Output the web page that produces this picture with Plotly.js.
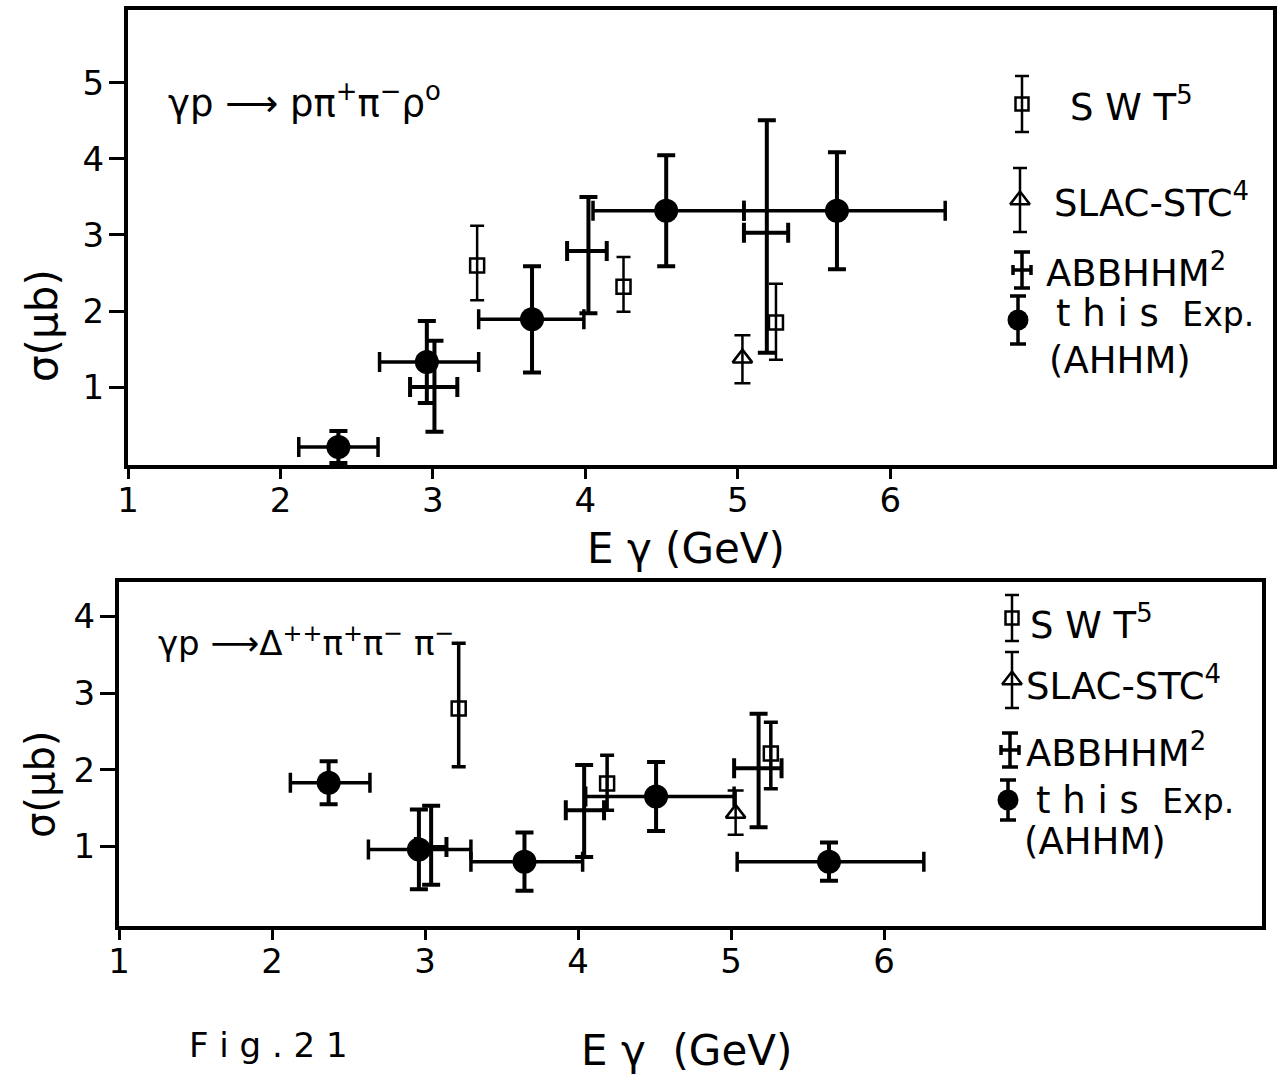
<!DOCTYPE html>
<html>
<head>
<meta charset="utf-8">
<script src="https://cdn.plot.ly/plotly-3.0.1.min.js"></script>
<style>
  html, body { margin: 0; padding: 0; background: #fff; }
  #chart { width: 1288px; height: 1090px; }
</style>
</head>
<body>
<div id="chart"></div>
<script>
// ---- γp → p π+ π− ρ0 (upper panel) ----
const rhoExpE      = [2.38, 2.96, 3.65, 4.53, 5.65];
const rhoExpELow   = [2.12, 2.65, 3.30, 4.05, 5.04];
const rhoExpEHigh  = [2.64, 3.30, 3.99, 5.04, 6.36];
const rhoExpSigma  = [0.21, 1.33, 1.89, 3.32, 3.32];
const rhoExpErr    = [0.21, 0.54, 0.70, 0.73, 0.77];

const rhoSwtE       = [3.29, 4.25, 5.25];
const rhoSwtSigma   = [2.60, 2.32, 1.85];
const rhoSwtErrUp   = [0.52, 0.39, 0.51];
const rhoSwtErrDown = [0.46, 0.33, 0.49];

const rhoSlacE       = [5.03];
const rhoSlacSigma   = [1.38];
const rhoSlacErrUp   = [0.30];
const rhoSlacErrDown = [0.33];

const rhoAbbE       = [3.01, 4.02, 5.19];
const rhoAbbELow    = [2.85, 3.88, 5.04];
const rhoAbbEHigh   = [3.16, 4.14, 5.33];
const rhoAbbSigma   = [1.00, 2.79, 3.03];
const rhoAbbErrUp   = [0.61, 0.71, 1.48];
const rhoAbbErrDown = [0.59, 0.82, 1.58];

// ---- γp → Δ++ π+ π− π− (lower panel) ----
const delExpE      = [2.37, 2.96, 3.65, 4.51, 5.64];
const delExpELow   = [2.12, 2.63, 3.30, 4.05, 5.04];
const delExpEHigh  = [2.64, 3.30, 4.03, 5.02, 6.26];
const delExpSigma  = [1.83, 0.96, 0.80, 1.65, 0.80];
const delExpErr    = [0.28, 0.52, 0.38, 0.45, 0.25];

const delSwtE       = [3.22, 4.19, 5.26];
const delSwtSigma   = [2.80, 1.82, 2.21];
const delSwtErrUp   = [0.85, 0.37, 0.41];
const delSwtErrDown = [0.76, 0.35, 0.46];

const delSlacE       = [5.03];
const delSlacSigma   = [1.43];
const delSlacErrUp   = [0.30];
const delSlacErrDown = [0.28];

const delAbbE       = [3.04, 4.04, 5.18];
const delAbbELow    = [2.94, 3.92, 5.02];
const delAbbEHigh   = [3.14, 4.17, 5.33];
const delAbbSigma   = [0.99, 1.47, 2.02];
const delAbbErrUp   = [0.54, 0.59, 0.71];
const delAbbErrDown = [0.49, 0.61, 0.77];

// tick values and text
const xTicks      = [1, 2, 3, 4, 5, 6];
const yTicksUpper = [1, 2, 3, 4, 5];
const yTicksLower = [1, 2, 3, 4];
const legendNames = ['SWT', 'SLAC-STC', 'ABBHHM', 'this Exp.'];
const legendRefs  = ['5', '4', '2', ''];

// ---------------------------------------------------------------
const W = 1288, H = 1090;
const fx = p => p / W;          // pixel → paper x
const fy = p => 1 - p / H;      // pixel → paper y
const INK = '#000';
const FONT = 'DejaVu Sans, Liberation Sans, sans-serif';

const diff = (a, b) => a.map((v, i) => v - b[i]);

function expTrace(E, lo, hi, s, err, xa, ya) {
  return {
    type: 'scatter', mode: 'markers', xaxis: xa, yaxis: ya,
    x: E, y: s, showlegend: false, hoverinfo: 'skip',
    marker: { symbol: 'circle', size: 24, color: INK },
    error_x: { type: 'data', symmetric: false, array: diff(hi, E), arrayminus: diff(E, lo),
               color: INK, thickness: 3.5, width: 10 },
    error_y: { type: 'data', array: err, color: INK, thickness: 4, width: 9 }
  };
}
function swtTrace(E, s, up, dn, xa, ya, lw) {
  return {
    type: 'scatter', mode: 'markers', xaxis: xa, yaxis: ya,
    x: E, y: s, showlegend: false, hoverinfo: 'skip',
    marker: { symbol: 'square-open', size: 14, color: INK, line: { width: 2.5, color: INK } },
    error_y: { type: 'data', symmetric: false, array: up, arrayminus: dn,
               color: INK, thickness: lw, width: 7 }
  };
}
function slacTrace(E, s, up, dn, xa, ya) {
  return {
    type: 'scatter', mode: 'markers', xaxis: xa, yaxis: ya,
    x: E, y: s, showlegend: false, hoverinfo: 'skip',
    marker: { symbol: 'triangle-up-open', size: 17, color: INK, line: { width: 2.5, color: INK } },
    error_y: { type: 'data', symmetric: false, array: up, arrayminus: dn,
               color: INK, thickness: 2.5, width: 8 }
  };
}
function abbTrace(E, lo, hi, s, up, dn, xa, ya) {
  return {
    type: 'scatter', mode: 'markers', xaxis: xa, yaxis: ya,
    x: E, y: s, showlegend: false, hoverinfo: 'skip',
    marker: { symbol: 'circle', size: 3, color: INK },
    error_x: { type: 'data', symmetric: false, array: diff(hi, E), arrayminus: diff(E, lo),
               color: INK, thickness: 4, width: 10 },
    error_y: { type: 'data', symmetric: false, array: up, arrayminus: dn,
               color: INK, thickness: 4, width: 9 }
  };
}

// legend glyphs drawn on a pixel-scaled overlay axis pair
function keyTraces(cx, rows) {
  const [ySwt, ySlac, yAbb, yExp] = rows.y;
  const [hSwt, hSlac, hAbb, hExp] = rows.h;
  return [
    { type: 'scatter', mode: 'markers', xaxis: 'x3', yaxis: 'y3', x: [cx[0]], y: [ySwt],
      showlegend: false, hoverinfo: 'skip',
      marker: { symbol: 'square-open', size: 13, color: INK, line: { width: 2.5, color: INK } },
      error_y: { type: 'data', array: [hSwt], color: INK, thickness: 2.5, width: 7 } },
    { type: 'scatter', mode: 'markers', xaxis: 'x3', yaxis: 'y3', x: [cx[1]], y: [ySlac],
      showlegend: false, hoverinfo: 'skip',
      marker: { symbol: 'triangle-up-open', size: 17, color: INK, line: { width: 2.5, color: INK } },
      error_y: { type: 'data', array: [hSlac], color: INK, thickness: 2.5, width: 7 } },
    { type: 'scatter', mode: 'markers', xaxis: 'x3', yaxis: 'y3', x: [cx[2]], y: [yAbb],
      showlegend: false, hoverinfo: 'skip',
      marker: { symbol: 'circle', size: 3, color: INK },
      error_x: { type: 'data', array: [9], color: INK, thickness: 3.5, width: 5 },
      error_y: { type: 'data', array: [hAbb], color: INK, thickness: 3.5, width: 8 } },
    { type: 'scatter', mode: 'markers', xaxis: 'x3', yaxis: 'y3', x: [cx[3]], y: [yExp],
      showlegend: false, hoverinfo: 'skip',
      marker: { symbol: 'circle', size: 21, color: INK },
      error_y: { type: 'data', array: [hExp], color: INK, thickness: 3.5, width: 8 } }
  ];
}

const traces = [
  expTrace(rhoExpE, rhoExpELow, rhoExpEHigh, rhoExpSigma, rhoExpErr, 'x', 'y'),
  swtTrace(rhoSwtE, rhoSwtSigma, rhoSwtErrUp, rhoSwtErrDown, 'x', 'y', 2.5),
  slacTrace(rhoSlacE, rhoSlacSigma, rhoSlacErrUp, rhoSlacErrDown, 'x', 'y'),
  abbTrace(rhoAbbE, rhoAbbELow, rhoAbbEHigh, rhoAbbSigma, rhoAbbErrUp, rhoAbbErrDown, 'x', 'y'),

  expTrace(delExpE, delExpELow, delExpEHigh, delExpSigma, delExpErr, 'x2', 'y2'),
  swtTrace(delSwtE, delSwtSigma, delSwtErrUp, delSwtErrDown, 'x2', 'y2', 3.5),
  slacTrace(delSlacE, delSlacSigma, delSlacErrUp, delSlacErrDown, 'x2', 'y2'),
  abbTrace(delAbbE, delAbbELow, delAbbEHigh, delAbbSigma, delAbbErrUp, delAbbErrDown, 'x2', 'y2'),

  ...keyTraces([1022, 1020, 1022, 1018], { y: [104, 200, 270, 320], h: [28, 32, 18, 24] }),
  ...keyTraces([1012, 1012, 1010, 1008], { y: [618, 680, 750, 800], h: [23, 28, 17, 20] })
];

const tickFont = { family: FONT, size: 34, color: INK };
function xAxis(domain, range, anchor) {
  return {
    domain, range, anchor, tickvals: xTicks, ticktext: xTicks.map(String),
    ticks: 'outside', ticklen: 10, tickwidth: 3, tickcolor: INK, ticklabelstandoff: -8,
    showline: true, linewidth: 4, linecolor: INK, mirror: true,
    showgrid: false, zeroline: false, tickfont: tickFont, fixedrange: true
  };
}
function yAxis(domain, range, anchor, tv) {
  return {
    domain, range, anchor, tickvals: tv, ticktext: tv.map(String),
    ticks: 'outside', ticklen: 15, tickwidth: 3, tickcolor: INK, ticklabelstandoff: -2,
    showline: true, linewidth: 4, linecolor: INK, mirror: true,
    showgrid: false, zeroline: false, tickfont: tickFont, fixedrange: true
  };
}

const textFont = (size) => ({ family: FONT, size, color: INK });
function label(text, x, y, size, extra) {
  return Object.assign({
    xref: 'paper', yref: 'paper', x: fx(x), y: fy(y), text,
    showarrow: false, xanchor: 'left', yanchor: 'middle', font: textFont(size)
  }, extra || {});
}
function legendLabels(rows, size) {
  return rows.map(r => {
    const i = r.i;
    let t = legendNames[i];
    if (i === 0) t = 'S W T';
    if (i === 3) t = 't h i s  <span style="font-size:' + (size - 4) + 'px">Exp.</span>';
    if (legendRefs[i]) t += '<sup>' + legendRefs[i] + '</sup>';
    return label(t, r.x, r.y, size);
  });
}

const annotations = [
  // reaction labels
  label('γp ⟶ pπ<sup>+</sup>π<sup>−</sup>ρ<sup>o</sup>', 166, 100, 37),
  label('γp ⟶Δ<sup>++</sup>π<sup>+</sup>π<sup>−</sup> π<sup>−</sup>', 156, 641, 34),

  // legends
  ...legendLabels([{ i: 0, x: 1068, y: 104 }, { i: 1, x: 1052, y: 200 },
                   { i: 2, x: 1044, y: 270 }, { i: 3, x: 1054, y: 314 }], 37),
  label('(AHHM)', 1047, 360, 37),
  ...legendLabels([{ i: 0, x: 1028, y: 622 }, { i: 1, x: 1024, y: 683 },
                   { i: 2, x: 1024, y: 750 }, { i: 3, x: 1034, y: 800 }], 37),
  label('(AHHM)', 1022, 841, 37),

  // axis titles
  label('E γ (GeV)', 686, 548, 42, { xanchor: 'center' }),
  label('E γ  (GeV)', 686, 1050, 42, { xanchor: 'center' }),
  label('σ(μb)', 42, 326, 42, { xanchor: 'center', textangle: -90 }),
  label('σ(μb)', 40, 785, 40, { xanchor: 'center', textangle: -90 }),
  label('F i g . 2 1', 268, 1045, 34, { xanchor: 'center' })
];

const layout = {
  width: W, height: H,
  margin: { l: 0, r: 0, t: 0, b: 0 },
  paper_bgcolor: '#fff', plot_bgcolor: 'rgba(0,0,0,0)',
  showlegend: false,
  xaxis:  xAxis([fx(128), fx(1273)], [1, 8.51], 'y'),
  yaxis:  yAxis([fy(465), fy(10)], [-0.026, 5.96], 'x', yTicksUpper),
  xaxis2: xAxis([fx(119), fx(1262)], [1, 8.47], 'y2'),
  yaxis2: yAxis([fy(926), fy(582)], [-0.04, 4.45], 'x2', yTicksLower),
  xaxis3: { domain: [0, 1], range: [0, W], anchor: 'y3', visible: false, fixedrange: true },
  yaxis3: { domain: [0, 1], range: [H, 0], anchor: 'x3', visible: false, fixedrange: true },
  annotations
};

Plotly.newPlot('chart', traces, layout, { staticPlot: true, displayModeBar: false });
</script>
</body>
</html>
